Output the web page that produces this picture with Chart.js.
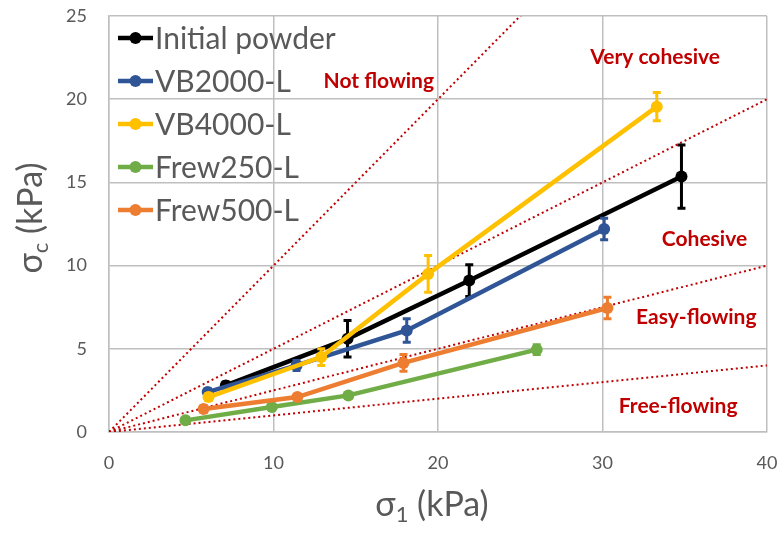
<!DOCTYPE html>
<html lang="en">
<head>
    <meta charset="UTF-8">
    <title>Flow function</title>
    <style>
        body {
            margin: 0;
            background-color: #ffffff;
        }
        .chart-box {
            width: 784px;
            height: 535px;
        }
    </style>
</head>
<body>
    <div class="chart-box">
        <canvas id="flowChart" width="784" height="535"></canvas>
    </div>

    <script src="https://cdn.jsdelivr.net/npm/chart.js"></script>
    <script>
        // Measured data: major principal stress (x) vs unconfined yield strength (y), kPa
        const seriesNames = ['Initial powder', 'VB2000-L', 'VB4000-L', 'Frew250-L', 'Frew500-L'];
        const seriesColors = ['#000000', '#2f5597', '#ffc000', '#70ad47', '#ed7d31'];

        const initialX = [7.1, 14.5, 21.9, 34.8];
        const initialY = [2.8, 5.6, 9.1, 15.35];
        const initialErr = [0.2, 1.1, 0.95, 1.9];

        const vb2000X = [6.0, 11.4, 18.1, 30.1];
        const vb2000Y = [2.4, 4.0, 6.1, 12.2];
        const vb2000Err = [0.2, 0.3, 0.7, 0.65];

        const vb4000X = [6.05, 12.9, 19.4, 33.3];
        const vb4000Y = [2.1, 4.5, 9.5, 19.55];
        const vb4000Err = [0.2, 0.5, 1.1, 0.85];

        const frew250X = [4.65, 9.9, 14.55, 26.0];
        const frew250Y = [0.7, 1.5, 2.2, 4.95];
        const frew250Err = [0.1, 0.1, 0.15, 0.3];

        const frew500X = [5.75, 11.45, 17.9, 30.3];
        const frew500Y = [1.38, 2.1, 4.15, 7.45];
        const frew500Err = [0.2, 0.15, 0.5, 0.65];

        // ffc boundaries between flow regimes (sigma_c = sigma_1 / ffc)
        const flowFactors = [1, 2, 4, 10];
        const regimeNames = ['Not flowing', 'Very cohesive', 'Cohesive', 'Easy-flowing', 'Free-flowing'];

        const xTicks = [0, 10, 20, 30, 40];
        const yTicks = [0, 5, 10, 15, 20, 25];

        const allX = [initialX, vb2000X, vb4000X, frew250X, frew500X];
        const allY = [initialY, vb2000Y, vb4000Y, frew250Y, frew500Y];
        const allErr = [initialErr, vb2000Err, vb4000Err, frew250Err, frew500Err];

        const textGrey = '#595959';
        const regimeRed = '#c00000';
        const fontName = 'Lato, "Open Sans", sans-serif';

        // where each regime name sits, in axis units
        const regimeLabelAt = [[16.4, 21.1], [33.2, 22.55], [36.2, 11.6], [35.7, 6.87], [34.6, 1.54]];

        const datasets = [];

        flowFactors.forEach(ffc => {
            const xMax = xTicks[xTicks.length - 1];
            datasets.push({
                label: 'ffc ' + ffc,
                data: [{ x: 0, y: 0 }, { x: xMax, y: xMax / ffc }],
                showLine: true,
                borderColor: regimeRed,
                borderWidth: 2,
                borderDash: [2, 3],
                pointRadius: 0,
                clip: 0,
                order: 20
            });
        });

        seriesNames.forEach((name, s) => {
            datasets.push({
                label: name,
                data: allX[s].map((x, i) => ({ x: x, y: allY[s][i] })),
                errorBars: allErr[s],
                showLine: true,
                borderColor: seriesColors[s],
                backgroundColor: seriesColors[s],
                borderWidth: 4.5,
                pointRadius: 6,
                pointBorderWidth: 0,
                order: 10 - s
            });
        });

        // vertical error bars with caps, drawn right after their own series
        const errorBarPlugin = {
            id: 'errorBars',
            afterDatasetDraw(chart, args) {
                const ds = chart.data.datasets[args.index];
                if (!ds.errorBars) return;
                const ctx = chart.ctx;
                const yScale = chart.scales.y;
                ctx.save();
                ctx.strokeStyle = ds.borderColor;
                ctx.lineWidth = 3;
                args.meta.data.forEach((pt, i) => {
                    const v = ds.data[i].y;
                    const e = ds.errorBars[i];
                    const top = yScale.getPixelForValue(v + e);
                    const bottom = yScale.getPixelForValue(v - e);
                    ctx.beginPath();
                    ctx.moveTo(pt.x, top);
                    ctx.lineTo(pt.x, bottom);
                    ctx.moveTo(pt.x - 4, top);
                    ctx.lineTo(pt.x + 4, top);
                    ctx.moveTo(pt.x - 4, bottom);
                    ctx.lineTo(pt.x + 4, bottom);
                    ctx.stroke();
                });
                ctx.restore();
            }
        };

        // axis titles with subscripts, regime names and the legend box
        const decorPlugin = {
            id: 'decor',
            afterDraw(chart) {
                const ctx = chart.ctx;
                const xs = chart.scales.x;
                const ys = chart.scales.y;
                ctx.save();

                // regime names
                ctx.fillStyle = regimeRed;
                ctx.font = 'bold 21px ' + fontName;
                ctx.textAlign = 'center';
                ctx.textBaseline = 'middle';
                regimeNames.forEach((name, i) => {
                    const p = regimeLabelAt[i];
                    ctx.fillText(name, xs.getPixelForValue(p[0]), ys.getPixelForValue(p[1]));
                });

                // legend
                ctx.textAlign = 'left';
                ctx.font = '30px ' + fontName;
                seriesNames.forEach((name, i) => {
                    const cy = 38 + i * 43;
                    ctx.strokeStyle = seriesColors[i];
                    ctx.fillStyle = seriesColors[i];
                    ctx.lineWidth = 4.5;
                    ctx.beginPath();
                    ctx.moveTo(118, cy);
                    ctx.lineTo(153, cy);
                    ctx.stroke();
                    ctx.beginPath();
                    ctx.arc(135.5, cy, 6, 0, Math.PI * 2);
                    ctx.fill();
                    ctx.fillStyle = textGrey;
                    ctx.fillText(name, 155, cy + 1);
                });

                // axis titles
                ctx.fillStyle = textGrey;
                drawSubTitle(ctx, 'σ', '1', ' (kPa)', 432, 505, 0);
                drawSubTitle(ctx, 'σ', 'c', ' (kPa)', 31, 218, -Math.PI / 2);
                ctx.restore();
            }
        };

        function drawSubTitle(ctx, main, sub, rest, cx, cy, angle) {
            const big = '34px ' + fontName;
            const small = '22px ' + fontName;
            ctx.font = big;
            const w1 = ctx.measureText(main).width;
            const w3 = ctx.measureText(rest).width;
            ctx.font = small;
            const w2 = ctx.measureText(sub).width;
            const total = w1 + w2 + w3;
            ctx.save();
            ctx.translate(cx, cy);
            ctx.rotate(angle);
            ctx.textAlign = 'left';
            ctx.textBaseline = 'middle';
            let x = -total / 2;
            ctx.font = big;
            ctx.fillText(main, x, 0);
            x += w1;
            ctx.font = small;
            ctx.fillText(sub, x, 10);
            x += w2;
            ctx.font = big;
            ctx.fillText(rest, x, 0);
            ctx.restore();
        }

        new Chart(document.getElementById('flowChart'), {
            type: 'scatter',
            data: { datasets: datasets },
            options: {
                responsive: false,
                animation: false,
                layout: {
                    padding: { left: 0, top: 16, right: 17, bottom: 0 }
                },
                plugins: {
                    legend: { display: false },
                    tooltip: { enabled: false }
                },
                scales: {
                    x: {
                        type: 'linear',
                        min: xTicks[0],
                        max: xTicks[xTicks.length - 1],
                        afterBuildTicks: scale => { scale.ticks = xTicks.map(v => ({ value: v })); },
                        afterFit: scale => {
                            scale.height = 103;
                            scale.paddingLeft = 0;
                            scale.paddingRight = 0;
                        },
                        grid: { color: '#bfbfbf', lineWidth: 1.5, drawTicks: false },
                        border: { color: '#bfbfbf', width: 1.5 },
                        ticks: {
                            color: textGrey,
                            font: { family: fontName, size: 18 },
                            padding: 20
                        }
                    },
                    y: {
                        type: 'linear',
                        min: yTicks[0],
                        max: yTicks[yTicks.length - 1],
                        afterBuildTicks: scale => { scale.ticks = yTicks.map(v => ({ value: v })); },
                        afterFit: scale => {
                            scale.width = 109;
                            scale.paddingTop = 0;
                            scale.paddingBottom = 0;
                        },
                        grid: { color: '#bfbfbf', lineWidth: 1.5, drawTicks: false },
                        border: { color: '#bfbfbf', width: 1.5 },
                        ticks: {
                            color: textGrey,
                            font: { family: fontName, size: 18 },
                            padding: 22
                        }
                    }
                }
            },
            plugins: [errorBarPlugin, decorPlugin]
        });
    </script>
</body>
</html>
